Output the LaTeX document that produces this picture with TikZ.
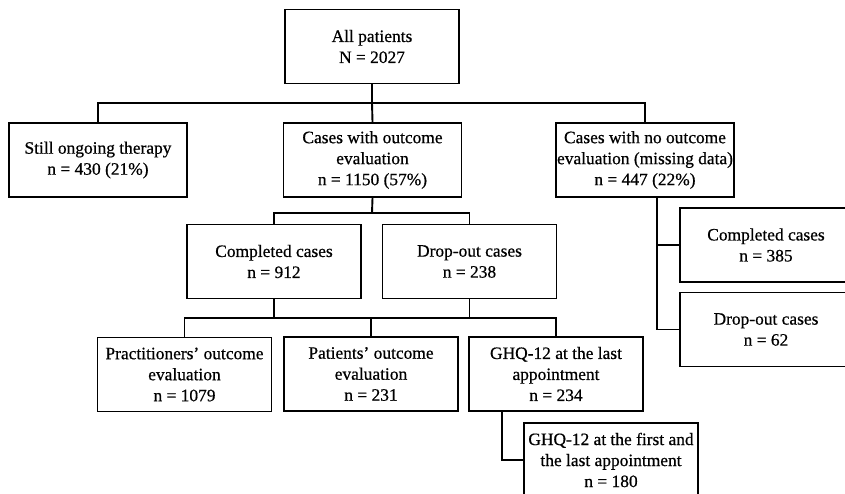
\documentclass[tikz,border=0pt]{standalone}
\usepackage{fontspec}
\setmainfont[FakeBold=0.6]{Liberation Serif}
\tikzset{
  box/.style  = {shape=rectangle, draw, align=center, line width=1.9pt,
                 minimum width=174pt, minimum height=74pt, inner sep=1pt},
  wide/.style = {box, minimum width=178pt},
  link/.style = {draw, line width=1.9pt}
}

\begin{document}
\begin{tikzpicture}
  [
  x = 1pt, y = -1pt,
  every node/.style = {font = \fontsize{17.4}{21}\selectfont}
  ]
  \useasboundingbox (0,0) rectangle (845,493);

  % first two levels
  \node[box]  (all)     at (372,46.5)  {All patients\\N = 2027};
  \node[wide] (ongoing) at (98,160)    {Still ongoing therapy\\n = 430 (21\%)};
  \node[wide] (withev)  at (372.5,160) {Cases with outcome\\evaluation\\n = 1150 (57\%)};
  \node[wide] (noev)    at (645,160)   {Cases with no outcome\\evaluation (missing data)\\n = 447 (22\%)};

  % cases with outcome evaluation
  \node[box] (compl) at (274,261.5)   {Completed cases\\n = 912};
  \node[box] (drop)  at (469.5,261.5) {Drop-out cases\\n = 238};
  \node[box] (pract) at (184.5,374.5) {Practitioners' outcome\\evaluation\\n = 1079};
  \node[box] (pat)   at (371,374)     {Patients' outcome\\evaluation\\n = 231};
  \node[box] (ghqa)  at (556,374)     {GHQ-12 at the last\\appointment\\n = 234};
  \node[box] (ghqb)  at (611,460)     {GHQ-12 at the first and\\the last appointment\\n = 180};

  % missing data
  \node[box, minimum width=172pt] (mcompl) at (766,245)   {Completed cases\\n = 385};
  \node[box, minimum width=172pt] (mdrop)  at (766,329.5) {Drop-out cases\\n = 62};

  % connectors
  \coordinate (bar1) at (372,103);
  \coordinate (bar2) at (372,213);
  \coordinate (bar3) at (372,318);
  \coordinate (mside) at (657,197);
  \coordinate (gside) at (502,411);

  \path[link] (all.south) -- (bar1);
  \path[link] (ongoing.north) |- (bar1) -| (noev.north);
  \path[link] (bar1) -- (withev.north);

  \path[link] (withev.south) -- (bar2);
  \path[link] (compl.north) |- (bar2) -| (drop.north);

  \path[link] (compl.south) -- (compl.south |- bar3);
  \path[link] (drop.south) -- (drop.south |- bar3);
  \path[link] (pract.north) |- (bar3) -| (ghqa.north);
  \path[link] (pat.north) -- (pat.north |- bar3);

  \path[link] (mside) |- (mdrop.west);
  \path[link] (mcompl.west) -- (mcompl.west -| mside);

  \path[link] (gside) |- (ghqb.west);
\end{tikzpicture}
\end{document}
